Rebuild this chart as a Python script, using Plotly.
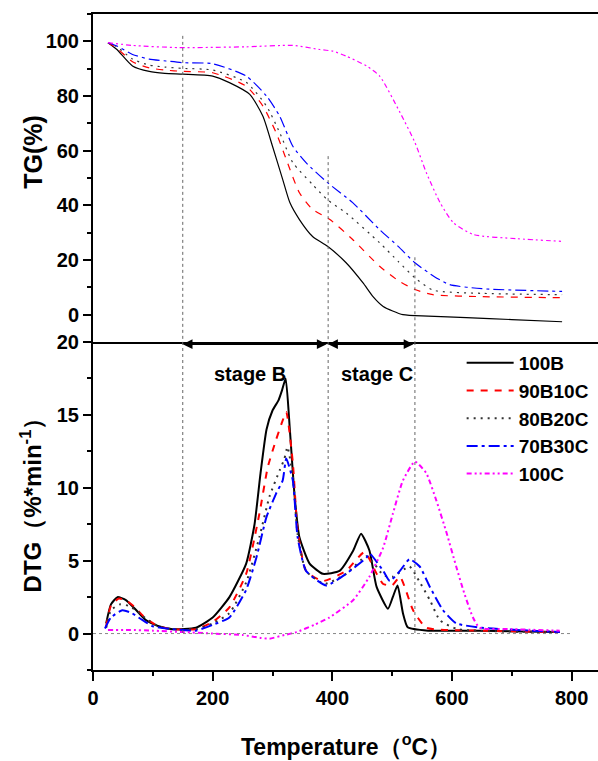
import plotly.graph_objects as go

# ---------------- data ----------------
series_names = ["100B", "90B10C", "80B20C", "70B30C", "100C"]

# TG (%) curves
tg_100B_T = [25, 40, 66, 94, 120, 150, 200, 228, 262, 284, 300, 317, 329, 345, 367, 392, 423, 451, 468, 485, 518, 560, 624, 700, 784]
tg_100B_V = [99.5, 97, 91, 89, 88.3, 88, 87.3, 84.9, 80.6, 72.6, 61.6, 49.5, 41, 34.8, 28.6, 25, 19, 11.7, 6.6, 3, 0, -0.5, -1.1, -1.8, -2.6]

tg_90B10C_T = [25, 40, 66, 94, 120, 150, 200, 256, 284, 306, 323, 345, 367, 396, 434, 479, 510, 538, 568, 650, 784]
tg_90B10C_V = [99.5, 97.5, 92.5, 90.3, 89.5, 89, 88.5, 83.6, 76.3, 66.6, 56.8, 44.6, 38.5, 34.8, 27.5, 17.7, 12.5, 9.2, 7.3, 6.6, 6.2]

tg_80B20C_T = [25, 40, 66, 94, 120, 150, 200, 256, 290, 312, 334, 367, 392, 423, 479, 510, 538, 568, 650, 784]
tg_80B20C_V = [99.5, 98, 93.5, 91.3, 90.6, 90.1, 89.5, 85, 76.3, 66.6, 55.6, 47.6, 42, 37.2, 26.3, 19.5, 13.5, 9, 7.8, 7.3]

tg_70B30C_T = [25, 40, 66, 94, 122, 150, 200, 256, 290, 312, 334, 356, 392, 434, 479, 510, 538, 570, 596, 650, 784]
tg_70B30C_V = [99.5, 98.3, 95.2, 93.5, 92.8, 92.2, 91.8, 87.3, 80, 72.6, 61.6, 55.6, 48.3, 41, 31.1, 25, 19, 14, 11, 9.5, 8.5]

tg_100C_T = [25, 66, 144, 256, 334, 379, 401, 423, 457, 479, 513, 538, 557, 580, 602, 636, 708, 785]
tg_100C_V = [99.5, 98.5, 97.7, 98, 98.5, 97, 96.4, 94.6, 91, 87.3, 74, 63, 52, 41, 33.7, 29.3, 27.8, 26.8]

# DTG (%/min) curves
dtg_100B_T = [22, 30, 41, 55, 70, 89, 110, 133, 172, 200, 228, 256, 270, 280, 290, 300, 310, 316, 322, 329, 337, 345, 362, 384, 412, 435, 448, 462, 474, 493, 501, 509, 518, 526, 560, 650, 780]
dtg_100B_V = [0.7, 2.0, 2.5, 2.3, 1.7, 0.9, 0.5, 0.3, 0.4, 1.1, 2.5, 4.8, 7.5, 11.0, 14.0, 15.3, 16.0, 16.7, 17.5, 14, 9.4, 6.6, 4.8, 4.1, 4.3, 5.7, 6.85, 5.7, 3.2, 1.7, 2.5, 3.3, 1.4, 0.43, 0.2, 0.2, 0.1]

dtg_90B10C_T = [22, 30, 43, 55, 70, 89, 110, 133, 172, 200, 228, 256, 278, 292, 306, 316, 323, 334, 342, 356, 384, 423, 454, 474, 485, 500, 513, 535, 557, 650, 780]
dtg_90B10C_V = [0.5, 1.9, 2.4, 2.3, 1.8, 1.0, 0.5, 0.3, 0.3, 0.8, 1.8, 4.1, 8.2, 11.4, 13.3, 14.5, 15.2, 11.7, 7.1, 4.3, 3.6, 4.3, 5.6, 4.1, 3.4, 3.3, 3.9, 1.6, 0.4, 0.2, 0.1]

dtg_80B20C_T = [22, 30, 45, 60, 75, 89, 110, 133, 172, 200, 228, 256, 278, 295, 312, 320, 325, 334, 342, 356, 387, 423, 457, 470, 485, 501, 529, 545, 563, 580, 610, 780]
dtg_80B20C_V = [0.4, 1.6, 2.0, 1.9, 1.5, 1.0, 0.5, 0.3, 0.3, 0.7, 1.4, 3.5, 6.6, 9.4, 11.2, 12.0, 12.8, 10.8, 6.8, 4.3, 3.4, 4.1, 5.3, 4.8, 4.0, 3.9, 4.6, 3.6, 2.3, 0.9, 0.3, 0.1]

dtg_70B30C_T = [20, 30, 49, 65, 80, 100, 133, 172, 200, 228, 256, 273, 290, 306, 317, 323, 334, 342, 356, 390, 423, 457, 462, 485, 496, 513, 529, 546, 563, 585, 607, 650, 780]
dtg_70B30C_V = [0.35, 1.1, 1.6, 1.4, 1.0, 0.5, 0.3, 0.2, 0.6, 1.1, 3.0, 5.2, 8.0, 9.6, 10.5, 12.0, 10.5, 6.6, 4.3, 3.3, 4.1, 5.2, 5.5, 4.3, 3.6, 4.3, 5.1, 4.6, 3.2, 1.6, 0.7, 0.4, 0.1]

dtg_100C_T = [25, 60, 100, 150, 200, 250, 280, 295, 320, 340, 370, 395, 435, 462, 485, 501, 518, 538, 557, 574, 591, 607, 621, 635, 646, 700, 780]
dtg_100C_V = [0.25, 0.25, 0.2, 0.1, 0.0, -0.1, -0.3, -0.35, -0.1, 0.1, 0.6, 1.1, 2.3, 3.9, 5.9, 8.2, 10.5, 11.8, 11.0, 9.1, 6.9, 4.6, 2.7, 1.1, 0.4, 0.3, 0.2]

# stage markers (temperatures) and labels
stage_bounds = [150, 393, 538]
stage_labels = ["stage B", "stage C"]
stage_label_T = [262, 474]

x_ticks = [0, 200, 400, 600, 800]
tg_ticks = [0, 20, 40, 60, 80, 100]
dtg_ticks = [0, 5, 10, 15, 20]

# ---------------- styling ----------------
colors = ["#000000", "#ff0000", "#333333", "#0000ff", "#ff00ff"]
dashes = ["solid", "7px,7px", "2px,5px", "11px,4px,3px,4px", "5px,3px,2px,3px,2px,3px"]
FONT = "Liberation Sans, Arial, sans-serif"

def b(s):
    return "<b>" + str(s) + "</b>"

tg_T = [tg_100B_T, tg_90B10C_T, tg_80B20C_T, tg_70B30C_T, tg_100C_T]
tg_V = [tg_100B_V, tg_90B10C_V, tg_80B20C_V, tg_70B30C_V, tg_100C_V]
dtg_T = [dtg_100B_T, dtg_90B10C_T, dtg_80B20C_T, dtg_70B30C_T, dtg_100C_T]
dtg_V = [dtg_100B_V, dtg_90B10C_V, dtg_80B20C_V, dtg_70B30C_V, dtg_100C_V]

fig = go.Figure()
for i, name in enumerate(series_names):
    fig.add_trace(go.Scatter(
        x=tg_T[i], y=tg_V[i], mode="lines", name=b(name), showlegend=False,
        line=dict(color=colors[i], width=1.2, dash=dashes[i], shape="spline", smoothing=0.6),
        xaxis="x2", yaxis="y"))
for i, name in enumerate(series_names):
    fig.add_trace(go.Scatter(
        x=dtg_T[i], y=dtg_V[i], mode="lines", name=b(name), showlegend=True,
        line=dict(color=colors[i], width=2, dash=dashes[i], shape="spline", smoothing=0.5),
        xaxis="x", yaxis="y2"))

shapes = []
tg_tops = [102, 58, 21]
dtg_bottoms = [0, 4, 0]
for xb, top, bot in zip(stage_bounds, tg_tops, dtg_bottoms):
    shapes.append(dict(type="line", xref="x2", yref="y", x0=xb, x1=xb, y0=top, y1=-10,
                       line=dict(color="#666666", width=1, dash="dot")))
    shapes.append(dict(type="line", xref="x", yref="y2", x0=xb, x1=xb, y0=20, y1=bot,
                       line=dict(color="#666666", width=1, dash="dot")))
shapes.append(dict(type="line", xref="x", yref="y2", x0=0, x1=800, y0=0, y1=0,
                   line=dict(color="#888888", width=1, dash="dot")))

L, R, T_, B_ = 93, 0, 14, 91
W, H = 598, 761
PW = W - L - R

annotations = []
for a, c in zip(stage_bounds[:-1], stage_bounds[1:]):
    annotations.append(dict(x=a, y=19.85, ax=c, ay=19.85, xref="x", yref="y2", axref="x", ayref="y2",
                            showarrow=True, arrowhead=2, arrowside="end+start", arrowsize=1.3,
                            arrowwidth=1.5, arrowcolor="#000000", text=""))
for lbl, tx in zip(stage_labels, stage_label_T):
    annotations.append(dict(x=tx, y=17.8, xref="x", yref="y2", text=b(lbl), showarrow=False,
                            font=dict(family=FONT, size=20, color="#000")))
annotations.append(dict(x=(33 - L) / PW, y=0.79, xref="paper", yref="paper", text=b("TG(%)"), textangle=-90,
                        showarrow=False, xanchor="center", yanchor="middle",
                        font=dict(family=FONT, size=25, color="#000")))
annotations.append(dict(x=(31 - L) / PW, y=0.26, xref="paper", yref="paper",
                        text=b("DTG（%*min<sup>-1</sup>）"), textangle=-90,
                        showarrow=False, xanchor="center", yanchor="middle",
                        font=dict(family=FONT, size=24, color="#000")))
annotations.append(dict(x=0.5, y=-0.114, xref="paper", yref="paper", text=b("Temperature（<sup>o</sup>C）"),
                        showarrow=False, xanchor="center", yanchor="middle",
                        font=dict(family=FONT, size=23, color="#000")))

tickfont = dict(family=FONT, size=20, color="#000")
fig.update_layout(
    width=W, height=H,
    margin=dict(l=L, r=R, t=T_, b=B_),
    paper_bgcolor="white", plot_bgcolor="white",
    font=dict(family=FONT, color="#000"),
    shapes=shapes, annotations=annotations,
    xaxis=dict(domain=[0, 1], anchor="y2", range=[0, 844], tickvals=x_ticks, ticktext=[b(v) for v in x_ticks],
               ticks="outside", ticklen=9, tickwidth=2, tickcolor="#000",
               minor=dict(ticks="outside", ticklen=4, tickwidth=2, tickcolor="#000", dtick=100),
               showline=True, linecolor="#000", linewidth=2, showgrid=False, zeroline=False,
               tickfont=tickfont),
    xaxis2=dict(domain=[0, 1], anchor="y", matches="x", range=[0, 844], showticklabels=False,
                ticks="", showline=True, mirror=True, linecolor="#000", linewidth=2,
                showgrid=False, zeroline=False),
    yaxis=dict(domain=[0.5, 1], anchor="x2", range=[-10, 110], tickvals=tg_ticks, ticktext=[b(v) for v in tg_ticks],
               ticks="outside", ticklen=8, tickwidth=2, tickcolor="#000",
               minor=dict(ticks="outside", ticklen=4, tickwidth=2, tickcolor="#000", dtick=10, tick0=0),
               showline=True, linecolor="#000", linewidth=2, showgrid=False, zeroline=False,
               tickfont=tickfont),
    yaxis2=dict(domain=[0, 0.5], anchor="x", range=[-2.5, 20], tickvals=dtg_ticks, ticktext=[b(v) for v in dtg_ticks],
                ticks="outside", ticklen=8, tickwidth=2, tickcolor="#000",
                minor=dict(ticks="outside", ticklen=4, tickwidth=2, tickcolor="#000", dtick=2.5, tick0=0),
                showline=True, linecolor="#000", linewidth=2, showgrid=False, zeroline=False,
                tickfont=tickfont),
    legend=dict(x=0.73, y=0.497, xanchor="left", yanchor="top", bgcolor="rgba(0,0,0,0)",
                font=dict(family=FONT, size=19, color="#000"),
                itemwidth=47, tracegroupgap=0),
)

fig.write_html("out.html", config={"displayModeBar": False},
               post_script="document.body.style.margin='0';document.body.style.overflow='hidden';")
